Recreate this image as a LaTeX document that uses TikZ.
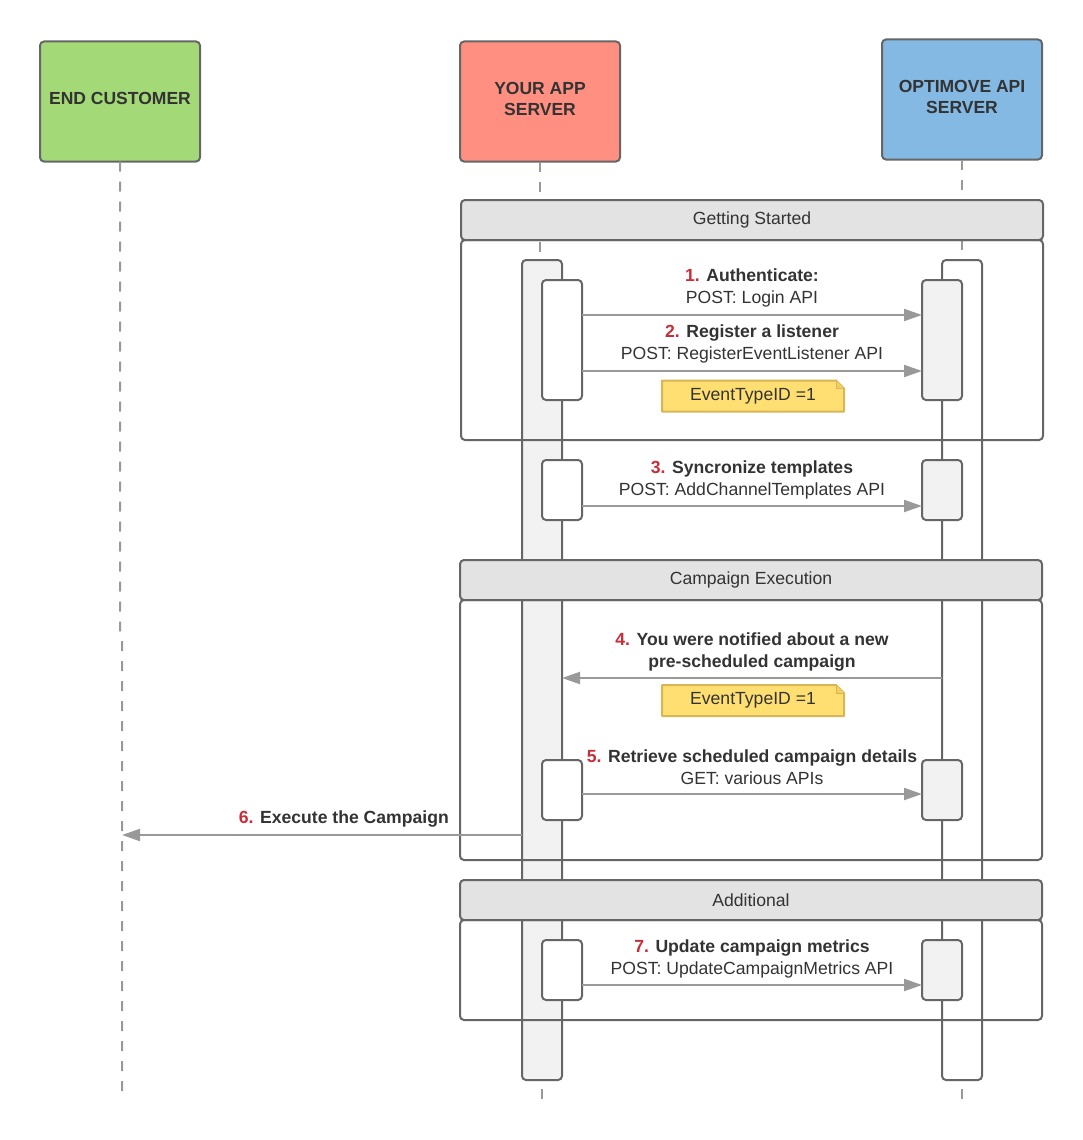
\documentclass[tikz,border=0pt]{standalone}
\usepackage{fontspec}
\setmainfont{Liberation Sans}
\usetikzlibrary{positioning, arrows.meta, calc, backgrounds}

\definecolor{custgreen}{HTML}{A3D977}
\definecolor{appred}{HTML}{FF8F80}
\definecolor{optblue}{HTML}{83B9E3}
\definecolor{edgegray}{HTML}{666666}
\definecolor{msggray}{HTML}{999999}
\definecolor{headgray}{HTML}{E3E3E3}
\definecolor{bargray}{HTML}{F2F2F2}
\definecolor{notefill}{HTML}{FFDF71}
\definecolor{noteedge}{HTML}{D6B656}
\definecolor{notefold}{HTML}{F2D060}
\definecolor{numred}{HTML}{C92D39}
\definecolor{txtgray}{HTML}{333333}

\newcommand{\stepnum}[1]{\textcolor{numred}{\textbf{#1}}}

\tikzset{
  actor/.style={draw=edgegray, line width=2pt, rounded corners=4pt, outer sep=0pt,
    minimum width=160pt, minimum height=120pt, align=center, text=txtgray,
    text depth=6pt, font=\fontsize{17.5}{21}\selectfont\bfseries},
  lifeline/.style={draw=msggray, line width=2pt, dash pattern=on 10pt off 10pt},
  bar/.style={draw=edgegray, line width=2pt, rounded corners=4pt, outer sep=0pt,
    minimum width=40pt, inner sep=0pt},
  framehead/.style={draw=edgegray, fill=headgray, line width=2pt, rounded corners=4pt,
    outer sep=0pt, minimum width=582pt, minimum height=40pt, inner sep=0pt, text=txtgray},
  framebody/.style={draw=edgegray, line width=2pt, rounded corners=4pt, outer sep=0pt,
    minimum width=582pt, inner sep=0pt},
  msg/.style={draw=msggray, line width=2pt, -{Triangle[length=18pt,width=12pt]}},
  lbl/.style={text=txtgray, align=center, inner sep=0pt},
  notebox/.style={minimum width=182pt, minimum height=31pt, inner sep=0pt, outer sep=0pt, text=txtgray},
  notepaper/.style={draw=noteedge, fill=notefill, line width=2pt, line join=round},
}

\begin{document}
\begin{tikzpicture}[x=1pt, y=-1pt, font=\fontsize{17.6}{22}\selectfont]
\useasboundingbox (0,0) rectangle (1083,1140);

% participants
\node[actor, fill=custgreen] (cust) at (120,101.5) {END CUSTOMER};
\node[actor, fill=appred] (app) at (540,101.5) {YOUR APP\\SERVER};
\node[actor, fill=optblue] (opt) at (962,99.5) {OPTIMOVE API\\SERVER};

% lifelines
\coordinate (custlow) at (122,1100);
\draw[lifeline] (cust.south) -- (120,630) -- (122,636) -- (custlow);
\draw[lifeline] (app.south) -- (540,270);
\draw[lifeline] (opt.south) -- (962,270);

% long activations
\node[bar, fill=bargray, minimum height=820pt] (appbar) at (542,670) {};
\node[bar, fill=white, minimum height=820pt] (optbar) at (962,670) {};
\draw[lifeline] (appbar.south |- 0,1089) -- (542,1100);
\draw[lifeline] (optbar.south |- 0,1089) -- (962,1100);

% frames
\node[framehead] (gshead) at (752,220) {Getting Started};
\node[framehead] (cehead) at (751,580) {Campaign Execution};
\node[framehead] (adhead) at (751,900) {Additional};
\node[framebody, minimum height=200pt, below=0pt of gshead] (gsbody) {};
\node[framebody, minimum height=260pt, below=0pt of cehead] (cebody) {};
\node[framebody, minimum height=100pt, below=0pt of adhead] (adbody) {};

% short activations
\foreach \n/\y/\h in {1/340/120, 3/490/60, 5/790/60, 7/970/60} {
  \node[bar, fill=white, minimum height=\h] (a\n) at (562,\y) {};
  \node[bar, fill=bargray, minimum height=\h] (o\n) at (942,\y) {};
}

% messages
\draw[msg] (a1.east |- 0,315) -- (o1.west |- 0,315);
\draw[msg] (a1.east |- 0,371) -- (o1.west |- 0,371);
\draw[msg] (a3.east |- 0,506) -- (o3.west |- 0,506);
\draw[msg] (optbar.west |- 0,678) -- (appbar.east |- 0,678);
\draw[msg] (a5.east |- 0,794) -- (o5.west |- 0,794);
\draw[msg] (appbar.west |- 0,835) -- (custlow |- 0,835);
\draw[msg] (a7.east |- 0,985) -- (o7.west |- 0,985);

% message labels
\node[lbl] (m1) at (752,287.5) {\stepnum{1.} \textbf{Authenticate:}\\POST: Login API};
\node[lbl] (m2) at (752,343.5) {\stepnum{2.} \textbf{Register a listener}\\POST: RegisterEventListener API};
\node[lbl] (m3) at (752,479.5) {\stepnum{3.} \textbf{Syncronize templates}\\POST: AddChannelTemplates API};
\node[lbl, font=\fontsize{17.6}{22}\selectfont\bfseries] (m4) at (752,651.5) {\stepnum{4.} You were notified about a new\\pre-scheduled campaign};
\node[lbl] (m5) at (752,767) {\stepnum{5.} \textbf{Retrieve scheduled campaign details}\\GET: various APIs};
\node[lbl, anchor=east] (m6) at (449,818.5) {\stepnum{6.} \textbf{Execute the Campaign}};
\node[lbl] (m7) at (752,958.5) {\stepnum{7.} \textbf{Update campaign metrics}\\POST: UpdateCampaignMetrics API};

% notes
\node[notebox] (note1) at (753,396) {EventTypeID =1};
\node[notebox] (note2) at (753,700.5) {EventTypeID =1};
\begin{scope}[on background layer]
\foreach \nt in {note1, note2} {
  \draw[notepaper] (\nt.south west) -- (\nt.north west) -- ([xshift=-8pt]\nt.north east)
    -- ([yshift=-8pt]\nt.north east) -- (\nt.south east) -- cycle;
  \draw[notepaper, fill=notefold, line width=1pt] ([xshift=-8pt]\nt.north east)
    -- ([xshift=-8pt,yshift=-8pt]\nt.north east) -- ([yshift=-8pt]\nt.north east);
}
\end{scope}
\end{tikzpicture}
\end{document}
